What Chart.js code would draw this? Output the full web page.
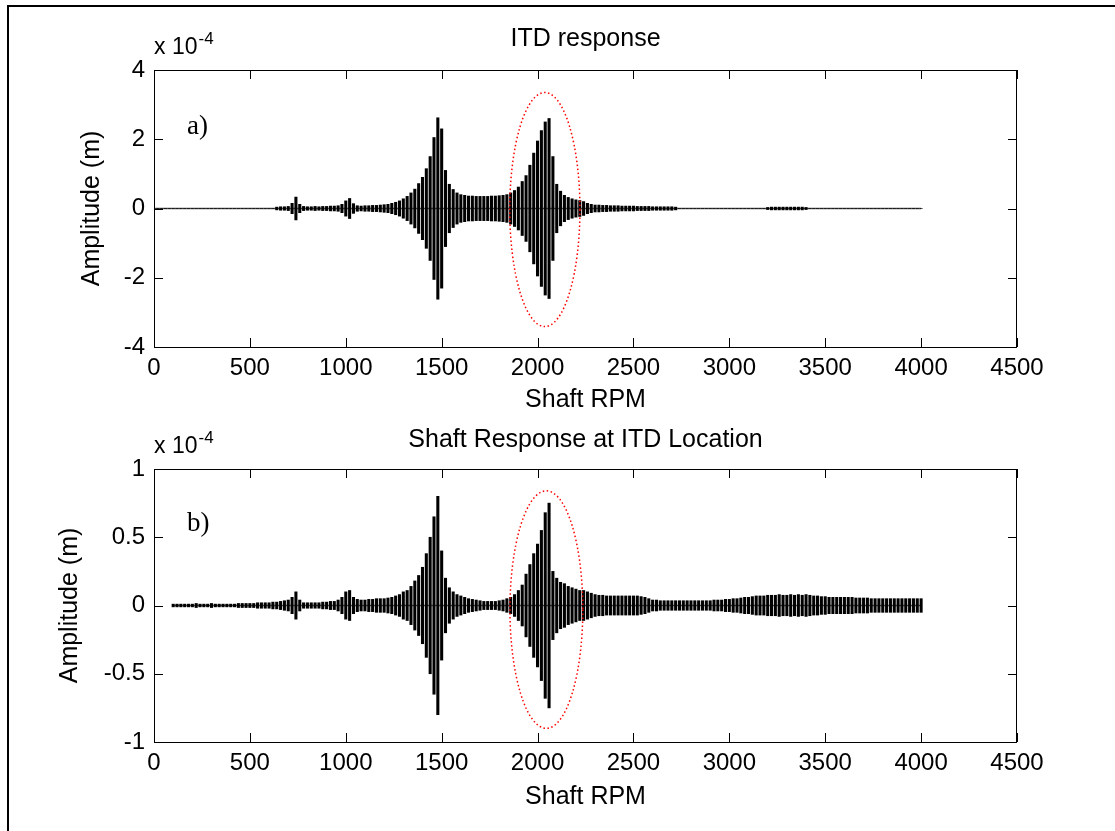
<!DOCTYPE html>
<html lang="en">
<head>
    <meta charset="UTF-8">
    <title>ITD response</title>
    <script src="https://cdn.jsdelivr.net/npm/chart.js"></script>
    <style>
        body { margin: 0; background: #fff; overflow: hidden; }
        #page { position: relative; width: 1115px; height: 831px; }
        .frame { position: absolute; left: 7px; top: 5px; width: 1200px; height: 900px;
                 border-left: 2px solid #000; border-top: 2px solid #000; }
        .panel { position: absolute; left: 0; }
    </style>
</head>
<body>
<div id="page">
    <div class="frame"></div>
    <div class="panel" style="top:0"><canvas id="itdChart" width="1115" height="415"></canvas></div>
    <div class="panel" style="top:415px"><canvas id="shaftChart" width="1115" height="416"></canvas></div>
</div>

<script>
    // RPM grid: one sample every 20 RPM from 0 to 4000
    const RPM_START = 0;
    const RPM_STEP = 20;

    // envelope amplitude (x 1e-4 m), one value per 20 RPM, 10 per row (200 RPM)
    const itdAmp = [
        0, 0, 0, 0, 0, 0, 0, 0, 0, 0,                                 // 0
        0, 0, 0, 0, 0, 0, 0, 0, 0, 0,                                 // 200
        0, 0, 0, 0, 0, 0, 0, 0, 0, 0,                                 // 400
        0, 0, 0.04, 0.05, 0.05, 0.06, 0.15, 0.33, 0.12, 0.06,         // 600
        0.05, 0.05, 0.06, 0.05, 0.06, 0.06, 0.07, 0.07, 0.08, 0.12,   // 800
        0.22, 0.29, 0.14, 0.08, 0.07, 0.08, 0.08, 0.09, 0.09, 0.10,   // 1000
        0.11, 0.12, 0.15, 0.18, 0.22, 0.28, 0.35, 0.45, 0.56, 0.72,   // 1200
        0.90, 1.15, 1.50, 2.05, 2.62, 2.30, 1.10, 0.70, 0.55, 0.45,   // 1400
        0.40, 0.38, 0.36, 0.36, 0.35, 0.35, 0.35, 0.35, 0.36, 0.36,   // 1600
        0.37, 0.38, 0.40, 0.45, 0.52, 0.62, 0.78, 0.95, 1.25, 1.60,   // 1800
        1.95, 2.25, 2.50, 2.60, 1.50, 0.70, 0.50, 0.38, 0.32, 0.28,   // 2000
        0.25, 0.23, 0.20, 0.15, 0.12, 0.10, 0.10, 0.09, 0.09, 0.08,   // 2200
        0.08, 0.08, 0.07, 0.07, 0.07, 0.07, 0.06, 0.06, 0.06, 0.06,   // 2400
        0.05, 0.05, 0.05, 0.05, 0.05, 0.05, 0.04, 0, 0, 0,            // 2600
        0, 0, 0, 0, 0, 0, 0, 0, 0, 0,                                 // 2800
        0, 0, 0, 0, 0, 0, 0, 0, 0, 0,                                 // 3000
        0.03, 0.04, 0.04, 0.04, 0.04, 0.04, 0.04, 0.04, 0.04, 0.04,   // 3200
        0.03, 0, 0, 0, 0, 0, 0, 0, 0, 0,                              // 3400
        0, 0, 0, 0, 0, 0, 0, 0, 0, 0,                                 // 3600
        0, 0, 0, 0, 0, 0, 0, 0, 0, 0,                                 // 3800
        0                                                             // 4000
    ];

    const shaftAmp = [
        null, null, null, null, null, 0.01, 0.01, 0.01, 0.01, 0.01,             // 0
        0.01, 0.015, 0.01, 0.01, 0.01, 0.015, 0.01, 0.01, 0.01, 0.01,           // 200
        0.01, 0.01, 0.015, 0.015, 0.015, 0.015, 0.015, 0.02, 0.02, 0.02,        // 400
        0.02, 0.025, 0.025, 0.03, 0.035, 0.04, 0.06, 0.10, 0.04, 0.02,          // 600
        0.02, 0.02, 0.02, 0.02, 0.025, 0.025, 0.03, 0.03, 0.04, 0.06,           // 800
        0.10, 0.11, 0.06, 0.045, 0.04, 0.04, 0.045, 0.045, 0.05, 0.05,          // 1000
        0.05, 0.055, 0.06, 0.07, 0.08, 0.10, 0.11, 0.14, 0.18, 0.22,            // 1200
        0.28, 0.38, 0.50, 0.65, 0.80, 0.40, 0.20, 0.13, 0.10, 0.08,             // 1400
        0.07, 0.06, 0.05, 0.045, 0.04, 0.035, 0.03, 0.03, 0.03, 0.03,           // 1600
        0.035, 0.04, 0.05, 0.06, 0.08, 0.11, 0.15, 0.23, 0.30, 0.38,            // 1800
        0.45, 0.55, 0.68, 0.75, 0.25, 0.20, 0.17, 0.16, 0.14, 0.13,             // 2000
        0.12, 0.11, 0.11, 0.10, 0.09, 0.08, 0.075, 0.075, 0.07, 0.07,           // 2200
        0.07, 0.07, 0.07, 0.07, 0.07, 0.07, 0.07, 0.065, 0.06, 0.05,            // 2400
        0.04, 0.04, 0.035, 0.035, 0.035, 0.035, 0.035, 0.035, 0.035, 0.035,     // 2600
        0.035, 0.035, 0.035, 0.035, 0.035, 0.035, 0.04, 0.04, 0.04, 0.045,     // 2800
        0.045, 0.05, 0.05, 0.055, 0.06, 0.06, 0.065, 0.07, 0.07, 0.07,          // 3000
        0.075, 0.075, 0.075, 0.08, 0.075, 0.075, 0.08, 0.075, 0.08, 0.075,      // 3200
        0.08, 0.075, 0.07, 0.07, 0.065, 0.065, 0.06, 0.06, 0.06, 0.06,          // 3400
        0.06, 0.06, 0.06, 0.055, 0.055, 0.055, 0.055, 0.05, 0.05, 0.05,         // 3600
        0.05, 0.05, 0.05, 0.05, 0.05, 0.05, 0.05, 0.05, 0.05, 0.05,             // 3800
        0.05                                                                    // 4000
    ];

    const xTicks = { min: 0, max: 4500, step: 500 };
    const itdTicks = { min: -4, max: 4, step: 2 };
    const shaftTicks = { min: -1, max: 1, step: 0.5 };

    // dotted ellipse: [centre rpm, centre amp, half width rpm, half height amp]
    const itdEllipse = [2038, -0.03, 183, 3.38];
    const shaftEllipse = [2046, -0.03, 190, 0.87];
    // panel tags: [text, rpm, amp]
    const itdTag = ['a)', 172, 2.37];
    const shaftTag = ['b)', 172, 0.6];

    Chart.defaults.font.family = "'Liberation Sans', Arial, Helvetica, sans-serif";
    Chart.defaults.color = '#000';

    function rpmAt(i) { return RPM_START + i * RPM_STEP; }

    function bars(amp) {
        let out = [];
        amp.forEach((a, i) => { if (a !== null) out.push({ x: rpmAt(i), y: [-a, a] }); });
        return out;
    }
    function centre(amp) {
        let out = [];
        amp.forEach((a, i) => { if (a !== null) out.push({ x: rpmAt(i), y: 0 }); });
        return out;
    }

    // box, inward ticks, x 10^-4, ellipse and tag
    const decor = {
        id: 'decor',
        afterDatasetsDraw(chart, args, opts) {
            const { ctx, chartArea: a, scales: { x, y } } = chart;
            ctx.save();
            // red dotted ellipse
            const e = opts.ellipse;
            const cx = x.getPixelForValue(e[0]), cy = y.getPixelForValue(e[1]);
            const rx = Math.abs(x.getPixelForValue(e[0] + e[2]) - cx);
            const ry = Math.abs(y.getPixelForValue(e[1] + e[3]) - cy);
            ctx.strokeStyle = '#ff0000';
            ctx.lineWidth = 1.5;
            ctx.setLineDash([1.5, 2.5]);
            ctx.beginPath();
            ctx.ellipse(cx, cy, rx, ry, 0, 0, Math.PI * 2);
            ctx.stroke();
            ctx.setLineDash([]);

            // axes box
            ctx.strokeStyle = '#000';
            ctx.lineWidth = 1;
            ctx.strokeRect(a.left + 0.5, a.top + 0.5, a.right - a.left - 1, a.bottom - a.top);
            ctx.beginPath();
            x.ticks.forEach(t => {
                const px = Math.round(x.getPixelForValue(t.value)) + 0.5;
                ctx.moveTo(px, a.bottom); ctx.lineTo(px, a.bottom - 9);
                ctx.moveTo(px, a.top); ctx.lineTo(px, a.top + 9);
            });
            y.ticks.forEach(t => {
                const py = Math.round(y.getPixelForValue(t.value)) + 0.5;
                ctx.moveTo(a.left, py); ctx.lineTo(a.left + 9, py);
                ctx.moveTo(a.right, py); ctx.lineTo(a.right - 9, py);
            });
            ctx.stroke();

            // exponent label
            ctx.fillStyle = '#000';
            ctx.textBaseline = 'middle';
            ctx.textAlign = 'left';
            ctx.font = "23px 'Liberation Sans', Arial, sans-serif";
            ctx.fillText('x 10', a.left, a.top - 22);
            const w = ctx.measureText('x 10').width;
            ctx.font = "17px 'Liberation Sans', Arial, sans-serif";
            ctx.fillText('-4', a.left + w + 1, a.top - 31);

            // panel tag
            const g = opts.tag;
            ctx.font = "27px 'Liberation Serif', 'Times New Roman', serif";
            ctx.fillText(g[0], x.getPixelForValue(g[1]), y.getPixelForValue(g[2]));
            ctx.restore();
        }
    };

    function makeChart(id, amp, yt, o) {
        return new Chart(document.getElementById(id), {
            type: 'bar',
            data: {
                datasets: [{
                    type: 'bar',
                    data: bars(amp),
                    backgroundColor: '#000',
                    barThickness: 2.4,
                    borderWidth: 0,
                    order: 1
                }, {
                    type: 'line',
                    data: centre(amp),
                    borderColor: '#555',
                    borderWidth: 1.5,
                    pointRadius: 0,
                    order: 2
                }]
            },
            options: {
                responsive: false,
                animation: false,
                layout: { padding: { top: o.padTop, right: 98, left: 0, bottom: 0 } },
                plugins: {
                    legend: { display: false },
                    tooltip: { enabled: false },
                    title: {
                        display: true,
                        text: o.title,
                        fullSize: false,
                        font: { size: 25, weight: 'normal' },
                        color: '#000',
                        padding: { top: 0, bottom: o.titleGap }
                    },
                    decor: { ellipse: o.ellipse, tag: o.tag }
                },
                scales: {
                    x: {
                        type: 'linear',
                        offset: false,
                        min: xTicks.min, max: xTicks.max,
                        afterFit: s => { s.height = o.xHeight; },
                        grid: { display: false, drawTicks: false, offset: false },
                        border: { display: false },
                        ticks: {
                            stepSize: xTicks.step, padding: 7, autoSkip: false, maxRotation: 0,
                            font: { size: 24 }, callback: v => String(v)
                        },
                        title: {
                            display: true, text: 'Shaft RPM', font: { size: 25 },
                            padding: { top: 0, bottom: o.xTitleGap }
                        }
                    },
                    y: {
                        min: yt.min, max: yt.max,
                        afterFit: s => { s.width = 154; },
                        grid: { display: false, drawTicks: false },
                        border: { display: false },
                        ticks: { stepSize: yt.step, padding: 9, font: { size: 24 }, callback: v => String(v) },
                        title: {
                            display: true, text: 'Amplitude (m)', font: { size: 25 },
                            padding: { top: o.yTitleGap, bottom: 0 }
                        }
                    }
                }
            },
            plugins: [decor]
        });
    }

    makeChart('itdChart', itdAmp, itdTicks, {
        title: 'ITD response', padTop: 24, titleGap: 16,
        xHeight: 68, xTitleGap: 0, yTitleGap: 77,
        ellipse: itdEllipse, tag: itdTag
    });

    makeChart('shaftChart', shaftAmp, shaftTicks, {
        title: 'Shaft Response at ITD Location', padTop: 10, titleGap: 14,
        xHeight: 89, xTitleGap: 19, yTitleGap: 55,
        ellipse: shaftEllipse, tag: shaftTag
    });
</script>
</body>
</html>
